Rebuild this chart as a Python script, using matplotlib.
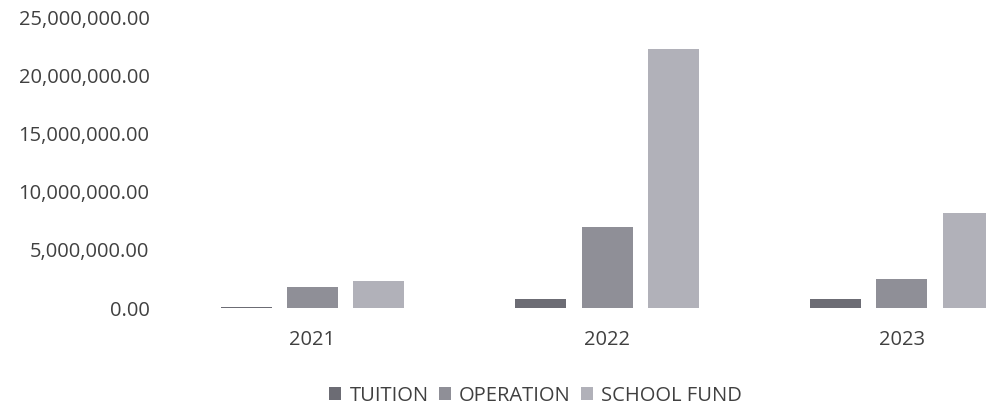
import numpy as np
import matplotlib
matplotlib.use("Agg")
import matplotlib.pyplot as plt
from matplotlib.ticker import FuncFormatter

years = ["2021", "2022", "2023"]
tuition = [100000, 780000, 800000]
operation = [1800000, 7000000, 2500000]
school_fund = [2300000, 22300000, 8200000]

series = [("TUITION", tuition, "#6c6c74"),
          ("OPERATION", operation, "#8f8f97"),
          ("SCHOOL FUND", school_fund, "#b1b1b9")]

plt.rcParams["font.family"] = ["Open Sans", "DejaVu Sans"]
text_col = "#404040"
fs = 14.5

fig = plt.figure(figsize=(9.86, 4.08), dpi=100)
ax = fig.add_axes([0.167, 0.245, 0.833, 0.713])

x = np.arange(len(years))
w = 0.173
step = 0.224
for i, (name, vals, col) in enumerate(series):
    ax.bar(x + (i - 1) * step, vals, width=w, color=col, label=name)

ax.set_xlim(-0.5, 2.285)
ax.set_ylim(0, 25000000)
ax.set_yticks(np.arange(0, 25000001, 5000000))
ax.yaxis.set_major_formatter(FuncFormatter(lambda v, p: f"{v:,.2f}"))
ax.set_xticks(x)
ax.set_xticklabels(years)
ax.tick_params(axis="both", length=0, labelsize=fs, colors=text_col)
ax.tick_params(axis="y", pad=11)
ax.tick_params(axis="x", pad=16)
for s in ax.spines.values():
    s.set_visible(False)

fig.legend(loc="center", bbox_to_anchor=(0.543, 0.03), ncol=3, frameon=False,
           fontsize=fs, handlelength=0.6, handleheight=0.6, handletextpad=0.4,
           columnspacing=0.5, labelcolor=text_col)

fig.savefig("out.png", dpi=100)
